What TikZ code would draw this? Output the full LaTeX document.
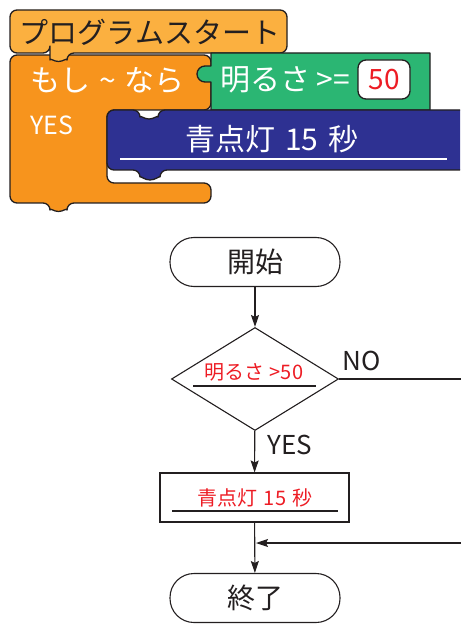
\documentclass[tikz,border=0pt]{standalone}
\usepackage{fontspec}
\setmainfont{Noto Sans CJK JP}
\usetikzlibrary{shapes.geometric,arrows.meta}
\definecolor{lorange}{HTML}{FBB040}
\definecolor{sorange}{HTML}{F7941D}
\definecolor{sgreen}{HTML}{2BB673}
\definecolor{sblue}{HTML}{2E3192}
\definecolor{outl}{HTML}{231F20}
\definecolor{sred}{HTML}{ED1C24}
\tikzset{
  blk/.style={draw=outl, line width=1.3pt, line join=round},
  fc/.style={draw=outl, line width=1.1pt},
  term/.style={fc, rounded corners=24pt, minimum width=170pt, minimum height=49pt, inner sep=0pt, font=\fontsize{28}{32}\selectfont, text=outl},
  proc/.style={fc, minimum width=189pt, minimum height=49pt, inner sep=0pt},
  dec/.style={fc, diamond, minimum width=167pt, minimum height=103pt, inner sep=0pt},
  redtxt/.style={text=sred, font=\fontsize{20}{24}\selectfont, inner sep=0pt},
  lbl/.style={text=outl, font=\fontsize{26}{30}\selectfont, inner sep=0pt},
  arr/.style={fc, -{Stealth[length=12pt,width=8pt,inset=2pt]}},
  wtxt/.style={text=white, font=\fontsize{30}{34}\selectfont, inner sep=0pt},
}
\begin{document}
\begin{tikzpicture}[x=1pt,y=-1pt]
\useasboundingbox (0,0) rectangle (460,628);
% main C block
\draw[blk, fill=sorange, rounded corners=7pt]
  (10,55) -- (211,55) -- (211,110) -- (107,110) -- (107,183) -- (211,183) -- (211,203)
  -- (67,203) arc[start angle=0,end angle=180,radius=8.5] -- (10,203) -- cycle;
% top block
\draw[blk, fill=lorange, rounded corners=7pt]
  (50,53) -- (10,53) -- (10,10) -- (287,10) -- (287,53)
  -- (67,53) arc[start angle=0,end angle=180,radius=8.5] -- cycle;
\node[text=outl, font=\fontsize{29}{32}\selectfont, inner sep=0pt] (title) at (150,32) {プログラムスタート};
\node[wtxt, anchor=west] (ifl) at (30,80) {もし\hspace{9pt}\textasciitilde\hspace{9pt}なら};
\node[text=white, font=\fontsize{25}{28}\selectfont, inner sep=0pt] (yesb) at (52,125) {YES};
% green condition block
\draw[blk, fill=sgreen]
  (211,53) -- (430,53) -- (430,110) -- (211,110) -- (211,82) -- (205,82)
  arc[start angle=90,end angle=270,radius=8] -- (211,66) -- cycle;
\node[wtxt, anchor=west] (cond) at (220,80) {明るさ >=};
\node[blk, fill=white, rounded corners=8pt, minimum width=52pt, minimum height=39pt, inner sep=0pt,
      text=sred, font=\fontsize{28}{32}\selectfont] (v50) at (384,79.5) {50};
% blue block
\begin{scope}
\clip (0,0) rectangle (460,628);
\draw[blk, fill=sblue, rounded corners=7pt]
  (107,110) -- (107,170) -- (140,170) arc[start angle=180,end angle=0,radius=10]
  -- (470,170) -- (470,110) -- (158,110) arc[start angle=0,end angle=180,radius=9] -- cycle;
\end{scope}
\node[wtxt] (act1) at (272,139) {青点灯\hspace{10pt}15\hspace{10pt}秒};
\draw[white, line width=1.3pt] (120,159) -- (447,159);
% flowchart
\node[term] (start) at (255,262) {開始};
\node[dec] (cmp) at (255,379) {};
\node[redtxt] (cmpt) at (254,372) {明るさ\hspace{5pt}>50};
\draw[outl, line width=1.1pt] (193,386) -- (316,386);
\node[proc] (act) at (254.5,497.5) {};
\node[redtxt] (actt) at (255,498) {青点灯\hspace{6pt}15\hspace{6pt}秒};
\draw[outl, line width=1.1pt] (172,511) -- (338,511);
\node[term] (end) at (255,598) {終了};
\node[lbl] (no) at (362,361) {NO};
\node[lbl] (yes) at (290,445) {YES};
\coordinate (noend) at (461,379);
\coordinate (retst) at (461,543);
\coordinate (join) at (256,543);
\draw[arr] (start) -- (cmp);
\draw[arr] (cmp) -- (act);
\draw[arr] (act) -- (end);
\draw[fc] (cmp.east) -- (noend);
\draw[arr] (retst) -- (join);
\end{tikzpicture}
\end{document}
